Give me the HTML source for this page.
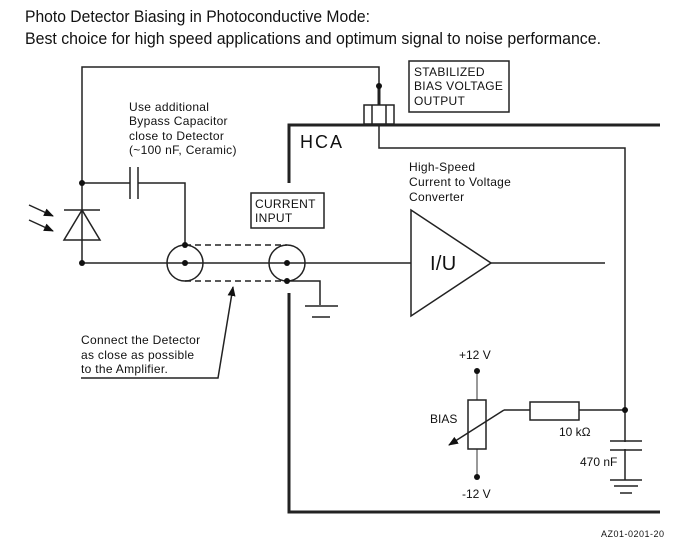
<!DOCTYPE html>
<html><head><meta charset="utf-8"><style>
body{margin:0;background:#fff;}
svg{display:block;font-family:"Liberation Sans",sans-serif;}
</style></head><body>
<svg width="682" height="547" viewBox="0 0 682 547" xmlns="http://www.w3.org/2000/svg">
<defs><marker id="ah" markerWidth="10" markerHeight="8" refX="9" refY="4" orient="auto" markerUnits="userSpaceOnUse"><path d="M0,0 L10,4 L0,8 Z" fill="#111"/></marker></defs>
<g fill="#111">
<text x="25" y="22" font-size="17" textLength="345" lengthAdjust="spacingAndGlyphs">Photo Detector Biasing in Photoconductive Mode:</text>
<text x="25" y="44" font-size="17" textLength="576" lengthAdjust="spacingAndGlyphs">Best choice for high speed applications and optimum signal to noise performance.</text>
</g>
<g stroke="#222" stroke-width="1.5" fill="none">
<polyline points="82,263 82,67 379,67 379,86"/>
<line x1="379" y1="86" x2="379" y2="105" stroke-width="3"/>
<rect x="364" y="105" width="30" height="19"/>
<line x1="372" y1="105" x2="372" y2="124"/><line x1="386" y1="105" x2="386" y2="124"/>
<polyline points="379,124 379,148 625,148 625,480"/>
<polyline points="289,183 289,125 660,125" stroke-width="3"/>
<polyline points="289,293 289,512 660,512" stroke-width="3"/>
<polygon points="82,210 64,240 100,240"/>
<line x1="64" y1="210" x2="100" y2="210"/>
<line x1="29" y1="205" x2="53" y2="216" marker-end="url(#ah)"/>
<line x1="29" y1="220" x2="53" y2="231" marker-end="url(#ah)"/>
<line x1="82" y1="183" x2="130" y2="183"/>
<line x1="130" y1="167" x2="130" y2="199"/><line x1="138" y1="167" x2="138" y2="199"/>
<polyline points="138,183 185,183 185,245"/>
<circle cx="185" cy="263" r="18"/><circle cx="287" cy="263" r="18"/>
<line x1="185" y1="245" x2="287" y2="245" stroke-dasharray="6,4"/>
<line x1="185" y1="281" x2="287" y2="281" stroke-dasharray="6,4"/>
<line x1="82" y1="263" x2="411" y2="263"/>
<polyline points="287,281 320,281 320,305"/>
<line x1="305" y1="306" x2="338" y2="306"/><line x1="312" y1="317" x2="330" y2="317"/>
<polygon points="411,210 411,316 491,263"/>
<line x1="491" y1="263" x2="605" y2="263"/>
<polyline points="81,378 218,378 233,287" marker-end="url(#ah)"/>
<line x1="477" y1="371" x2="477" y2="400" stroke="#777"/>
<line x1="477" y1="449" x2="477" y2="477" stroke="#777"/>
<rect x="468" y="400" width="18" height="49"/>
<line x1="504" y1="410" x2="449" y2="445" marker-end="url(#ah)"/>
<line x1="504" y1="410" x2="530" y2="410"/>
<rect x="530" y="402" width="49" height="18"/>
<line x1="579" y1="410" x2="625" y2="410"/>
<line x1="610" y1="441" x2="642" y2="441"/><line x1="610" y1="450" x2="642" y2="450"/>
<line x1="610" y1="480" x2="642" y2="480"/><line x1="614" y1="486" x2="638" y2="486"/><line x1="620" y1="493" x2="632" y2="493"/>
<rect x="409" y="61" width="100" height="51"/>
<rect x="251" y="193" width="73" height="35"/>
</g>
<rect x="620" y="442" width="10" height="7" fill="#fff"/>
<g fill="#111">
<circle cx="379" cy="86" r="3"/><circle cx="82" cy="183" r="3"/><circle cx="82" cy="263" r="3"/>
<circle cx="185" cy="245" r="3"/><circle cx="185" cy="263" r="3"/><circle cx="287" cy="263" r="3"/><circle cx="287" cy="281" r="3"/>
<circle cx="477" cy="371" r="3"/><circle cx="477" cy="477" r="3"/><circle cx="625" cy="410" r="3"/>
</g>
<g fill="#111" font-size="12" letter-spacing="0.3">
<text x="129" y="111">Use additional</text>
<text x="129" y="125">Bypass Capacitor</text>
<text x="129" y="140">close to Detector</text>
<text x="129" y="154">(~100 nF, Ceramic)</text>
<text x="414" y="76">STABILIZED</text>
<text x="414" y="90">BIAS VOLTAGE</text>
<text x="414" y="105">OUTPUT</text>
<text x="255" y="208">CURRENT</text>
<text x="255" y="222">INPUT</text>
<text x="409" y="171">High-Speed</text>
<text x="409" y="186">Current to Voltage</text>
<text x="409" y="201">Converter</text>
<text x="81" y="344">Connect the Detector</text>
<text x="81" y="359">as close as possible</text>
<text x="81" y="373">to the Amplifier.</text>
<text x="459" y="359" letter-spacing="0">+12 V</text>
<text x="462" y="498" letter-spacing="0">-12 V</text>
<text x="430" y="423" letter-spacing="0">BIAS</text>
<text x="559" y="436" letter-spacing="0">10 kΩ</text>
<text x="580" y="466" letter-spacing="0">470 nF</text>
<text x="601" y="537" font-size="9" letter-spacing="0.5">AZ01-0201-20</text>
<text x="300" y="148" font-size="18" letter-spacing="2">HCA</text>
<text x="430" y="270" font-size="20">I/U</text>
</g>
</svg>
</body></html>
